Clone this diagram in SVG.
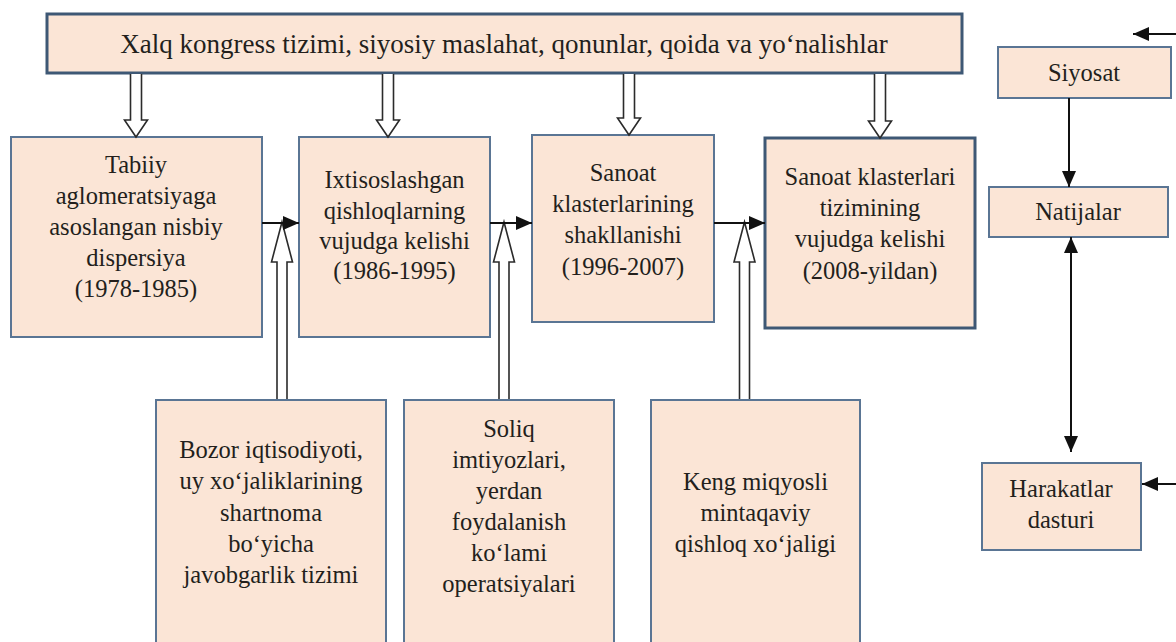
<svg xmlns="http://www.w3.org/2000/svg" width="1176" height="642" viewBox="0 0 1176 642">
<defs>
<style>
.box{fill:#fbe5d6;stroke:#5a7594;stroke-width:2}
.boxd{fill:#fbe5d6;stroke:#3e5875;stroke-width:3}
text{font-family:'Liberation Serif','DejaVu Serif',serif;fill:#231f1c;text-anchor:middle}
.t{font-size:24.5px}
.tt{font-size:27px}
.hol{fill:#fff;stroke:#2b2b2b;stroke-width:1.6;stroke-linejoin:miter}
.ln{fill:none;stroke:#111;stroke-width:2}
</style>
<marker id="ah" viewBox="0 0 16 14" refX="16" refY="7" markerWidth="16" markerHeight="14" markerUnits="userSpaceOnUse" orient="auto-start-reverse">
<path d="M0,0 L16,7 L0,14 Z" fill="#111"/>
</marker>
</defs>
<rect width="1176" height="642" fill="#fff"/>

<g id="top">
<rect class="boxd" x="47" y="14" width="915" height="59"/>
<text class="tt" x="504" y="53" font-family="Liberation Serif, serif">Xalq kongress tizimi, siyosiy maslahat, qonunlar, qoida va yo‘nalishlar</text>
</g>

<g id="stage1" font-family="Liberation Serif, serif">
<rect class="box" x="11" y="137" width="251" height="200"/>
<text class="t" x="136" y="173">Tabiiy</text>
<text class="t" x="136" y="204">aglomeratsiyaga</text>
<text class="t" x="136" y="235">asoslangan nisbiy</text>
<text class="t" x="136" y="266">dispersiya</text>
<text class="t" x="136" y="297">(1978-1985)</text>
</g>

<g id="stage2">
<rect class="box" x="299" y="137" width="191" height="200"/>
<text class="t" x="394.5" y="188">Ixtisoslashgan</text>
<text class="t" x="394.5" y="219">qishloqlarning</text>
<text class="t" x="394.5" y="249">vujudga kelishi</text>
<text class="t" x="394.5" y="279">(1986-1995)</text>
</g>

<g id="stage3">
<rect class="box" x="532" y="135" width="182" height="187"/>
<text class="t" x="623" y="181">Sanoat</text>
<text class="t" x="623" y="212">klasterlarining</text>
<text class="t" x="623" y="243">shakllanishi</text>
<text class="t" x="623" y="275">(1996-2007)</text>
</g>

<g id="stage4">
<rect class="boxd" x="765" y="138" width="210" height="190"/>
<text class="t" x="870" y="185">Sanoat klasterlari</text>
<text class="t" x="870" y="216">tizimining</text>
<text class="t" x="870" y="247">vujudga kelishi</text>
<text class="t" x="870" y="279">(2008-yildan)</text>
</g>

<g id="factor1">
<rect class="box" x="156" y="400" width="230" height="260"/>
<text class="t" x="271" y="458">Bozor iqtisodiyoti,</text>
<text class="t" x="271" y="489">uy xo‘jaliklarining</text>
<text class="t" x="271" y="521">shartnoma</text>
<text class="t" x="271" y="552">bo‘yicha</text>
<text class="t" x="271" y="583">javobgarlik tizimi</text>
</g>

<g id="factor2">
<rect class="box" x="404" y="400" width="210" height="260"/>
<text class="t" x="509" y="437">Soliq</text>
<text class="t" x="509" y="468">imtiyozlari,</text>
<text class="t" x="509" y="499">yerdan</text>
<text class="t" x="509" y="530">foydalanish</text>
<text class="t" x="509" y="561">ko‘lami</text>
<text class="t" x="509" y="592">operatsiyalari</text>
</g>

<g id="factor3">
<rect class="box" x="651" y="400" width="209" height="260"/>
<text class="t" x="755.5" y="490">Keng miqyosli</text>
<text class="t" x="755.5" y="521">mintaqaviy</text>
<text class="t" x="755.5" y="552">qishloq xo‘jaligi</text>
</g>

<g id="siyosat">
<rect class="box" x="998" y="47" width="173" height="51"/>
<text class="t" x="1084" y="81">Siyosat</text>
</g>

<g id="natijalar">
<rect class="box" x="989" y="187" width="179" height="50"/>
<text class="t" x="1078" y="220">Natijalar</text>
</g>

<g id="harakatlar">
<rect class="box" x="982" y="463" width="159" height="87"/>
<text class="t" x="1061" y="497">Harakatlar</text>
<text class="t" x="1061" y="528">dasturi</text>
</g>

<g id="connectors">
<path class="hol" d="M130.5,74 V120 H124.5 L136,137 L147.5,120 H141.5 V74"/>
<path class="hol" d="M382.5,74 V120 H376.5 L388,137 L399.5,120 H393.5 V74"/>
<path class="hol" d="M623.5,74 V118 H617.5 L629,135 L640.5,118 H634.5 V74"/>
<path class="hol" d="M874.5,74 V121 H868.5 L880,138 L891.5,121 H885.5 V74"/>

<path class="hol" d="M277,399 V262 H271.5 L282,222 L292.5,262 H287 V399"/>
<path class="hol" d="M499,399 V262 H493.5 L504,222 L514.5,262 H509 V399"/>
<path class="hol" d="M739.5,399 V262 H734 L744.5,222 L755,262 H749.5 V399"/>

<line class="ln" x1="262" y1="223" x2="299" y2="223" marker-end="url(#ah)"/>
<line class="ln" x1="490" y1="223" x2="532" y2="223" marker-end="url(#ah)"/>
<line class="ln" x1="714" y1="223" x2="765" y2="223" marker-end="url(#ah)"/>

<line class="ln" x1="1176" y1="34" x2="1133" y2="34" marker-end="url(#ah)"/>
<line class="ln" x1="1069" y1="98" x2="1069" y2="187" marker-end="url(#ah)"/>
<line class="ln" x1="1071" y1="237" x2="1071" y2="452" marker-start="url(#ah)" marker-end="url(#ah)"/>
<line class="ln" x1="1176" y1="484" x2="1142" y2="484" marker-end="url(#ah)"/>
</g>
</svg>
